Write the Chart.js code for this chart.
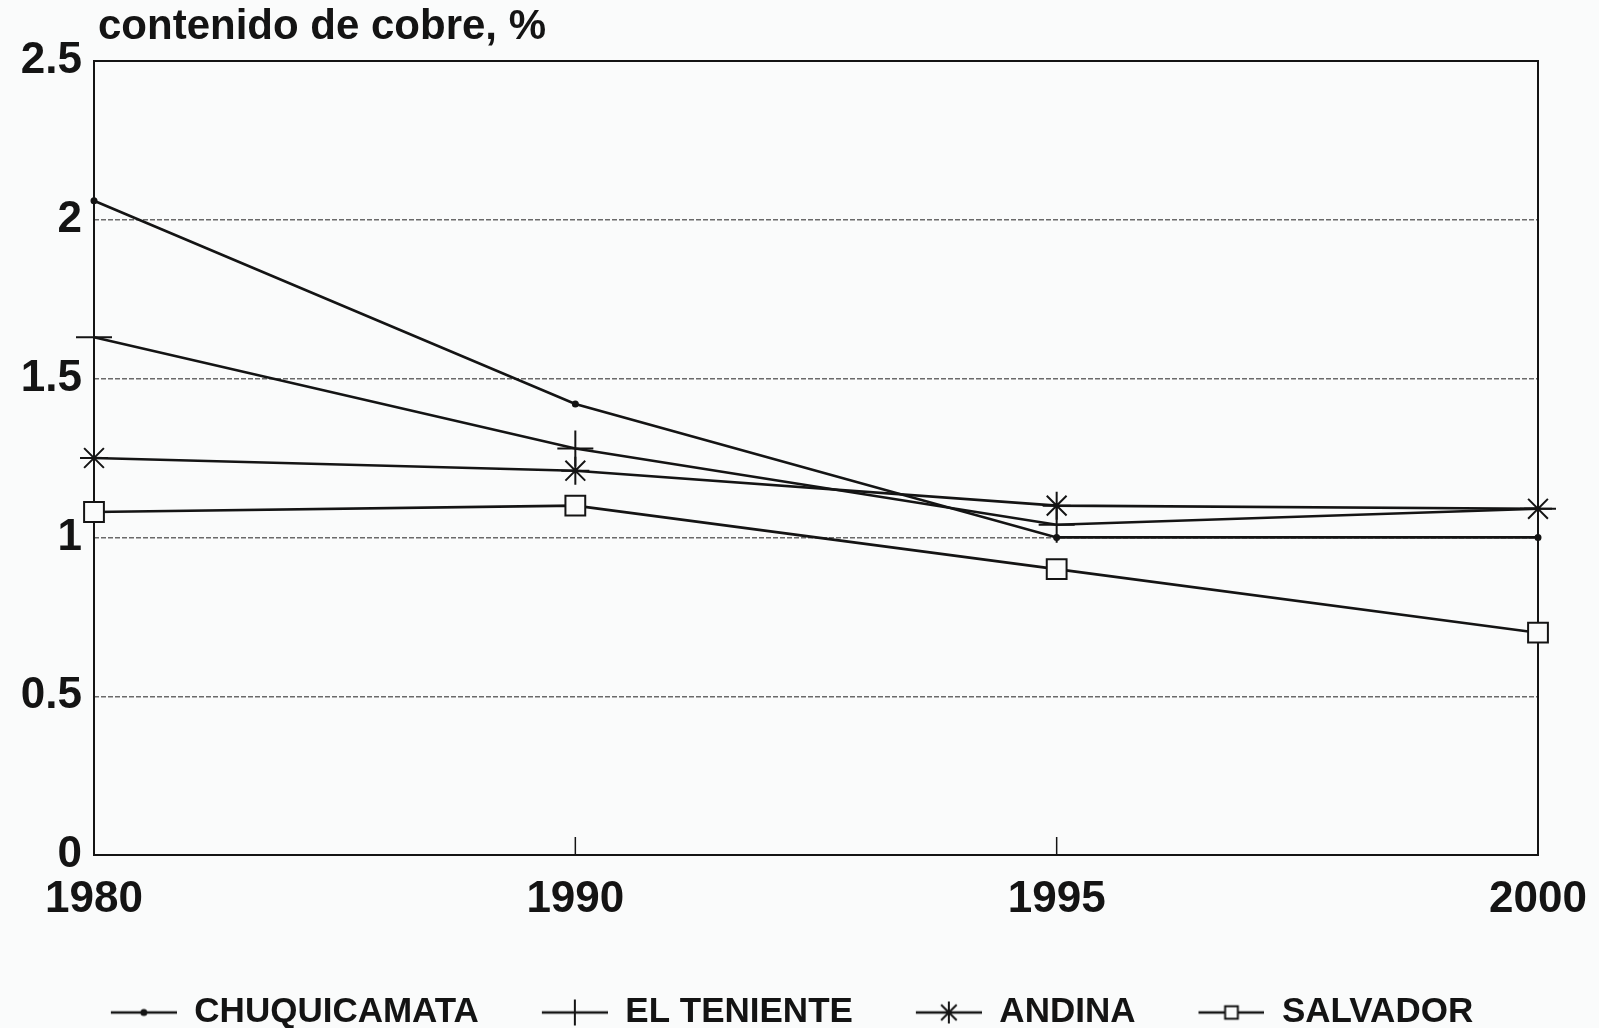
<!DOCTYPE html>
<html lang="es">
<head>
    <meta charset="UTF-8">
    <title>Contenido de cobre</title>
    <style>
        body {
            margin: 0;
            padding: 0;
            background-color: #fafbfb;
        }
        .chart-box {
            width: 1599px;
            height: 1028px;
        }
    </style>
    <script src="https://cdn.jsdelivr.net/npm/chart.js"></script>
</head>
<body>
    <div class="chart-box">
        <canvas id="cobreChart" width="1599" height="1028"></canvas>
    </div>

    <script>
        // Data
        const years = ['1980', '1990', '1995', '2000'];
        const chuquicamata = [2.06, 1.42, 1.0, 1.0];
        const elTeniente = [1.63, 1.28, 1.04, 1.09];
        const andina = [1.25, 1.21, 1.10, 1.09];
        const salvador = [1.08, 1.10, 0.90, 0.70];
        const seriesNames = ['CHUQUICAMATA', 'EL TENIENTE', 'ANDINA', 'SALVADOR'];
        const yTicks = [0, 0.5, 1, 1.5, 2, 2.5];

        const ink = '#141414';
        const paper = '#fafbfb';
        const fontFamily = '"Liberation Sans", Arial, sans-serif';

        // marker settings per series (chart / legend)
        const markers = [
            { style: 'circle', radius: 2.5, legendRadius: 2.5 },
            { style: 'cross', radius: 18, legendRadius: 13 },
            { style: 'star', radius: 14, legendRadius: 11 },
            { style: 'rect', radius: 14, legendRadius: 9 }
        ];

        // small canvas with line + marker for the legend (blank gap on the left)
        const iconGap = 46;
        function legendIcon(m) {
            const c = document.createElement('canvas');
            c.width = 66 + iconGap;
            c.height = 34;
            const g = c.getContext('2d');
            g.strokeStyle = ink;
            g.lineWidth = 2.5;
            g.beginPath();
            g.moveTo(iconGap, 17);
            g.lineTo(iconGap + 66, 17);
            g.stroke();
            g.fillStyle = m.style === 'circle' ? ink : paper;
            g.lineWidth = 2;
            Chart.helpers.drawPoint(g, { pointStyle: m.style, radius: m.legendRadius, rotation: 0, borderWidth: 2 }, iconGap + 33, 17);
            return c;
        }

        const allSeries = [chuquicamata, elTeniente, andina, salvador];
        const datasets = allSeries.map((values, i) => ({
            label: seriesNames[i],
            data: values,
            borderColor: ink,
            borderWidth: 2.6,
            backgroundColor: markers[i].style === 'circle' ? ink : paper,
            pointStyle: markers[i].style,
            pointRadius: markers[i].radius,
            pointBorderWidth: 2,
            pointBorderColor: ink,
            pointBackgroundColor: markers[i].style === 'circle' ? ink : paper,
            tension: 0,
            clip: false
        }));

        // frame, inner tick marks and axis title
        const framePlugin = {
            id: 'frame',
            beforeDraw(chart) {
                const ctx = chart.ctx;
                ctx.save();
                ctx.fillStyle = paper;
                ctx.fillRect(0, 0, chart.width, chart.height);
                ctx.restore();
            },
            beforeDatasetsDraw(chart) {
                const { ctx, chartArea: a } = chart;
                const x = chart.scales.x;
                ctx.save();
                ctx.strokeStyle = ink;
                ctx.lineWidth = 2;
                ctx.strokeRect(a.left, a.top, a.right - a.left, a.bottom - a.top);
                ctx.lineWidth = 1.5;
                for (let i = 1; i < years.length - 1; i++) {
                    const px = x.getPixelForValue(i);
                    ctx.beginPath();
                    ctx.moveTo(px, a.bottom);
                    ctx.lineTo(px, a.bottom - 18);
                    ctx.stroke();
                }
                ctx.fillStyle = ink;
                ctx.font = 'bold 42px ' + fontFamily;
                ctx.textBaseline = 'alphabetic';
                ctx.textAlign = 'left';
                ctx.fillText('contenido de cobre, %', a.left + 4, 39);
                ctx.restore();
            }
        };

        const ctxCobre = document.getElementById('cobreChart').getContext('2d');
        new Chart(ctxCobre, {
            type: 'line',
            data: { labels: years, datasets: datasets },
            options: {
                responsive: false,
                animation: false,
                layout: { padding: { top: 61, right: 61, left: 0, bottom: -12 } },
                scales: {
                    x: {
                        offset: false,
                        grid: { display: false, drawTicks: false },
                        border: { display: false },
                        ticks: {
                            color: ink,
                            padding: 18,
                            maxRotation: 0,
                            font: { family: fontFamily, size: 44, weight: 'bold' }
                        },
                        afterFit(scale) {
                            scale.height = 123;
                            scale.paddingLeft = 0;
                            scale.paddingRight = 0;
                        }
                    },
                    y: {
                        min: 0,
                        max: 2.5,
                        afterBuildTicks(scale) {
                            scale.ticks = yTicks.map(v => ({ value: v }));
                        },
                        grid: {
                            drawTicks: false,
                            lineWidth: 1.4,
                            color: ctx => (ctx.tick && (ctx.tick.value === 0 || ctx.tick.value === 2.5)) ? 'rgba(0,0,0,0)' : '#6a6a6a'
                        },
                        border: { display: false, dash: [5, 2] },
                        ticks: {
                            color: ink,
                            padding: 12,
                            font: { family: fontFamily, size: 44, weight: 'bold' },
                            callback: v => String(v)
                        },
                        afterFit(scale) { scale.width = 94; }
                    }
                },
                plugins: {
                    legend: {
                        position: 'bottom',
                        labels: {
                            usePointStyle: true,
                            pointStyleWidth: 66 + iconGap,
                            padding: 17,
                            color: ink,
                            font: { family: fontFamily, size: 35, weight: 'bold' },
                            generateLabels(chart) {
                                return chart.data.datasets.map((ds, i) => ({
                                    text: ds.label,
                                    pointStyle: legendIcon(markers[i]),
                                    fillStyle: ink,
                                    strokeStyle: ink,
                                    lineWidth: 0,
                                    fontColor: ink,
                                    hidden: false,
                                    datasetIndex: i
                                }));
                            }
                        }
                    },
                    tooltip: { enabled: false }
                }
            },
            plugins: [framePlugin]
        });
    </script>
</body>
</html>
